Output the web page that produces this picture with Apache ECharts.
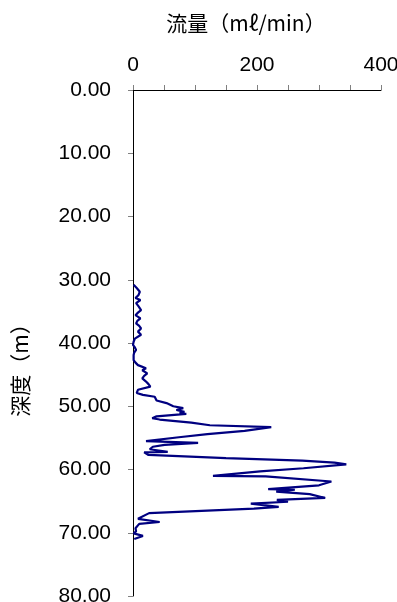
<!DOCTYPE html>
<html><head><meta charset="utf-8">
<script src="https://cdn.jsdelivr.net/npm/echarts@6/dist/echarts.min.js"></script>
<style>html,body{margin:0;padding:0;background:#fff}#c{width:397px;height:602px}</style>
</head><body><div id="c"></div>
<script>
const depths = [30.8,31.3,31.9,32.4,32.9,33.2,33.7,34.2,34.8,35.2,35.6,36.1,36.5,36.9,37.3,37.7,38.2,38.7,39.3,39.8,40.3,40.7,41.1,41.5,41.9,42.3,42.7,43.1,43.5,44.0,44.3,44.8,45.2,45.6,46.1,46.5,46.9,47.4,47.9,48.2,48.5,49.1,49.5,50.0,50.3,50.6,50.9,51.1,51.2,51.6,51.9,52.1,52.6,53.0,53.3,53.9,54.4,54.9,55.5,55.8,56.1,56.4,56.8,57.2,57.3,57.7,58.2,58.6,58.9,59.2,59.8,60.3,61.0,61.1,61.9,62.5,63.1,63.2,63.5,63.9,64.5,64.8,65.1,65.4,65.9,66.2,66.9,67.8,68.3,68.6,69.3,69.8,70.1,70.5,71.0];
const flows = [1,6,11,9,4,12,5,9,13,8,4,12,7,5,10,13,8,13,3,1,0,3,5,2,1,1,1,4,8,21,15,23,18,15,21,25,28,8,6,16,35,38,54,65,81,70,83,75,86,38,31,43,94,124,223,180,120,74,21,105,51,32,27,56,18,25,150,273,325,344,275,205,129,214,320,300,218,261,231,285,310,232,250,190,235,195,26,8,43,10,4,5,1,16,2];
const xTicks = [0, 200, 400];
const yTicks = [0,10,20,30,40,50,60,70,80];

const chart = echarts.init(document.getElementById('c'), null, {renderer:'canvas'});
const numFont = 'Liberation Sans, Arial, sans-serif';
const cjkFont = '"Noto Sans CJK JP", sans-serif';
chart.setOption({
  animation:false,
  grid:{left:133, top:90, right:16, bottom:6, containLabel:false, outerBoundsMode:'none'},
  xAxis:{
    type:'value', position:'top', min:xTicks[0], max:xTicks[xTicks.length-1], interval:200,
    name:'流量（mℓ/min）', nameLocation:'middle', nameGap:56,
    nameTextStyle:{fontSize:21, color:'#000', fontFamily:cjkFont, padding:[0,22,0,0]},
    axisLine:{show:true, lineStyle:{color:'#000', width:1}},
    axisTick:{show:true, length:5, lineStyle:{color:'#808080'}},
    minorTick:{show:true, splitNumber:4, length:5, lineStyle:{color:'#808080'}},
    axisLabel:{fontSize:21, color:'#000', fontFamily:numFont, margin:14},
    splitLine:{show:false}
  },
  yAxis:{
    type:'value', inverse:true, min:yTicks[0], max:yTicks[yTicks.length-1], interval:10,
    name:'深度（m）', nameLocation:'middle', nameGap:102,
    nameTextStyle:{fontSize:21, color:'#000', fontFamily:cjkFont, padding:[0,44,0,0]},
    axisLine:{show:true, lineStyle:{color:'#000', width:1}},
    axisTick:{show:true, length:5, lineStyle:{color:'#808080'}},
    axisLabel:{fontSize:21, color:'#000', fontFamily:numFont, margin:22, formatter:v=>v.toFixed(2)},
    splitLine:{show:false}
  },
  series:[{
    type:'line', data:depths.map((d,i)=>[flows[i], d]), showSymbol:false, symbol:'none',
    lineStyle:{color:'#000080', width:2.2}, smooth:false
  }]
});
</script></body></html>
